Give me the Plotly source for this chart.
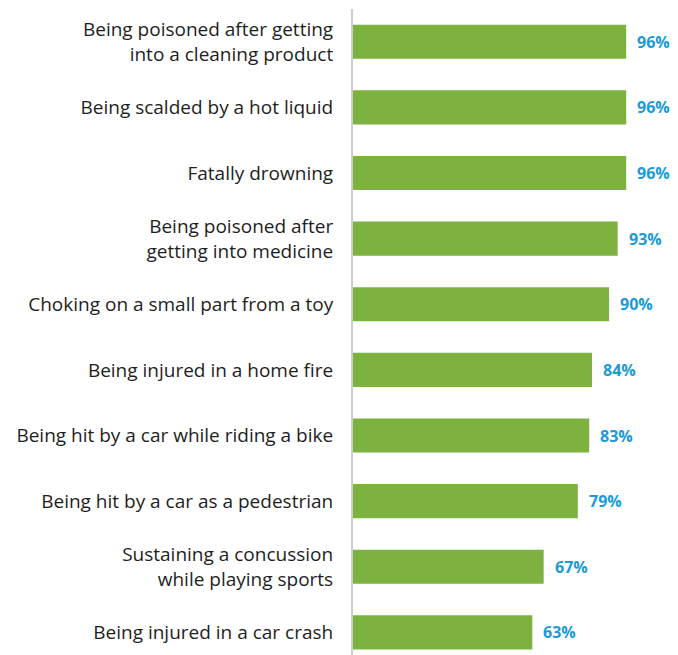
import plotly.graph_objects as go

categories = [
    "Being poisoned after getting<br>into a cleaning product",
    "Being scalded by a hot liquid",
    "Fatally drowning",
    "Being poisoned after<br>getting into medicine",
    "Choking on a small part from a toy",
    "Being injured in a home fire",
    "Being hit by a car while riding a bike",
    "Being hit by a car as a pedestrian",
    "Sustaining a concussion<br>while playing sports",
    "Being injured in a car crash",
]
values = [96, 96, 96, 93, 90, 84, 83, 79, 67, 63]
value_labels = [f"{v}%" for v in values]

fig = go.Figure()
fig.add_trace(go.Bar(
    y=categories, x=values, orientation="h",
    marker=dict(color="#7db241", line=dict(width=0)),
    width=0.52, hoverinfo="skip",
))

for c, v, t in zip(categories, values, value_labels):
    fig.add_annotation(x=v, y=c, text=f"<b>{t}</b>", showarrow=False,
                       xanchor="left", xshift=9, yanchor="middle",
                       font=dict(family="Open Sans", size=16, color="#1a9ad6"))

fig.update_layout(
    width=670, height=647,
    margin=dict(l=345, r=0, t=1, b=0),
    paper_bgcolor="white", plot_bgcolor="white",
    showlegend=False,
    font=dict(family="Open Sans", size=19, color="#1e1e1e"),
    xaxis=dict(range=[0, 114.2], visible=False, fixedrange=True),
    yaxis=dict(
        categoryorder="array", categoryarray=categories,
        range=[9.345, -0.5],
        showline=True, linecolor="#cccccc", linewidth=2,
        ticks="", ticklabelstandoff=14, showgrid=False, zeroline=False,
        tickfont=dict(family="Open Sans", size=19, color="#1e1e1e"),
    ),
)

fig.write_html("out.html")
